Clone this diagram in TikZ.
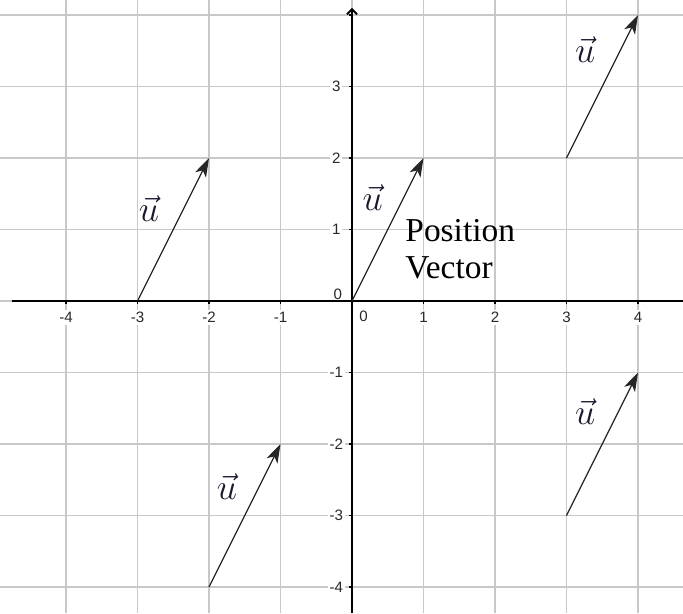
\documentclass[tikz,border=0pt]{standalone}
\usepackage{fontspec}
\setmainfont{Liberation Serif}
\newfontfamily\labfont{Liberation Sans}
\usetikzlibrary{arrows.meta}
\definecolor{gridgray}{RGB}{200,200,200}
\definecolor{labgray}{RGB}{40,40,40}
\definecolor{ucol}{RGB}{25,25,45}
\tikzset{
  gridline/.style={draw=gridgray, line width=0.6pt},
  axisline/.style={draw=black, line width=0.8pt},
  vecline/.style={draw=black!85, line width=0.5pt, -{Stealth[length=7.5pt,width=4.8pt,inset=2pt]}},
  ticklab/.style={font=\labfont\fontsize{6}{7}\selectfont, text=labgray, fill=white, inner sep=0.8pt},
  ulab/.style={font=\fontsize{14}{15}\selectfont, text=ucol, inner sep=0pt},
  postext/.style={font=\fontsize{13.3}{14.7}\selectfont, align=left, inner sep=0pt, anchor=west}
}
\begin{document}
\begin{tikzpicture}[x=1cm,y=1cm]
\useasboundingbox (-4.923,-4.364) rectangle (4.629,4.210);
\fill[white] (-4.923,-4.364) rectangle (4.629,4.210);
% grid
\foreach \i in {-4,...,4} {
  \draw[gridline] (\i,-4.364) -- (\i,4.210);
  \draw[gridline] (-4.923,\i) -- (4.629,\i);
}
% tick labels
\foreach \i in {-4,-3,-2,-1,1,2,3,4} {
  \node[ticklab] (xl\i) at (\i,-0.23) {\i};
}
\foreach \i in {-4,-3,-2,-1,1,2,3} {
  \node[ticklab] (yl\i) at (-0.22,\i) {\i};
}
\node[ticklab] (xl0) at (0.16,-0.21) {0};
\node[ticklab] (yl0) at (-0.2,0.1) {0};
% axes
\coordinate (xs) at (-4.76,0);
\coordinate (xe) at (4.629,0);
\coordinate (ys) at (0,-4.364);
\coordinate (ye) at (0,4.10);
\draw[axisline] (xs) -- (xe);
\draw[axisline, -{Straight Barb[length=2pt,width=4pt]}] (ys) -- (ye);
\foreach \i in {-4,...,4} {
  \draw[black, line width=0.5pt] (\i,0) -- (\i,-0.04);
  \draw[black, line width=0.5pt] (0,\i) -- (-0.04,\i);
}
% vectors
\coordinate (a1) at (-3,0);  \coordinate (b1) at (-2,2);
\coordinate (a2) at (0,0);   \coordinate (b2) at (1,2);
\coordinate (a3) at (3,2);   \coordinate (b3) at (4,4);
\coordinate (a4) at (-2,-4); \coordinate (b4) at (-1,-2);
\coordinate (a5) at (3,-3);  \coordinate (b5) at (4,-1);
\foreach \k in {1,...,5} { \draw[vecline] (a\k) -- (b\k); }
% labels
\node[ulab] (u1) at (-2.84,1.29) {$\vec{u}$};
\node[ulab] (u2) at (0.29,1.44) {$\vec{u}$};
\node[ulab] (u3) at (3.26,3.51) {$\vec{u}$};
\node[ulab] (u4) at (-1.75,-2.59) {$\vec{u}$};
\node[ulab] (u5) at (3.26,-1.55) {$\vec{u}$};
\node[postext] (pv) at (0.74,0.73) {Position\\Vector};
\end{tikzpicture}
\end{document}
